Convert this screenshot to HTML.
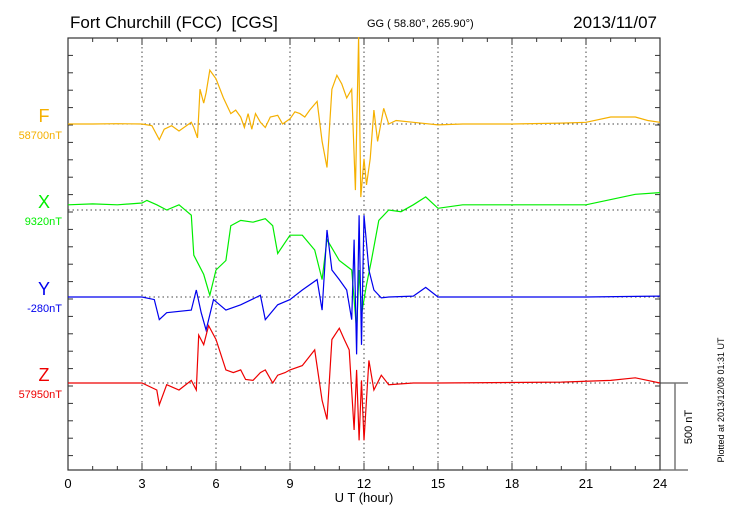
<!DOCTYPE html>
<html><head><meta charset="utf-8"><style>
body{margin:0;background:#fff;}
svg text{font-family:"Liberation Sans",sans-serif;}
</style></head><body>
<svg id="c" width="730" height="520" xmlns="http://www.w3.org/2000/svg">
<text x="70" y="28" font-size="17">Fort Churchill (FCC)&#160; [CGS]</text>
<text x="367" y="27" font-size="11">GG ( 58.80°, 265.90°)</text>
<text x="657" y="28" font-size="17" text-anchor="end">2013/11/07</text>
<text x="364" y="502" font-size="13" text-anchor="middle">U T (hour)</text>
<text transform="translate(692,427) rotate(-90)" font-size="11" text-anchor="middle">500 nT</text>
<text transform="translate(724,400) rotate(-90)" font-size="9" text-anchor="middle">Plotted at 2013/12/08 01:31  UT</text>
<g id="g"></g>
</svg>
<script>
const hoursF=[0,1,2,3,3.4,3.7,3.9,4.2,4.5,4.8,5.0,5.1,5.25,5.35,5.5,5.6,5.75,6.0,6.3,6.6,6.8,7.0,7.15,7.3,7.45,7.6,7.8,8.0,8.2,8.5,8.7,9.0,9.2,9.4,9.6,9.8,10.1,10.3,10.5,10.7,10.9,11.1,11.3,11.5,11.65,11.78,11.87,12.0,12.1,12.25,12.4,12.55,12.8,13.0,13.3,14,15,16,18,20,21,22,23,23.5,24];
const valsF=[0,0,2,0,-10,-90,-30,-10,-40,-10,10,-20,-80,200,120,180,310,260,150,60,80,40,-20,60,-30,60,10,-20,40,50,0,30,70,60,40,80,130,-100,-250,200,280,230,150,200,-380,500,-420,-200,-350,-200,80,-100,90,0,20,10,-5,0,0,5,10,40,40,20,10];
const hoursX=[0,1,2,3,3.2,3.6,4,4.5,5,5.1,5.5,5.75,6,6.4,6.6,7,7.5,8,8.3,8.5,9,9.5,10,10.3,10.5,11,11.5,11.7,11.8,11.9,12.1,12.3,12.6,13,13.5,14,14.5,15,16,18,21,22,23,24];
const valsX=[30,35,30,40,55,30,0,30,-30,-260,-370,-490,-345,-290,-90,-60,-70,-50,-90,-250,-145,-145,-230,-400,-170,-290,-345,-690,-345,-600,-430,-290,-60,0,-10,30,75,10,30,30,30,60,90,100];
const hoursY=[0,1,2,3,3.5,3.7,4,5,5.2,5.4,5.6,5.9,6.4,7,7.8,8,8.5,9,9.5,10.1,10.3,10.5,10.7,11,11.3,11.5,11.6,11.7,11.8,11.9,12.0,12.2,12.4,12.7,13,14,14.5,15,18,21,24];
const valsY=[0,0,0,0,-15,-130,-90,-75,40,-90,-190,-15,-75,-45,10,-130,-45,-15,40,100,-75,385,155,100,40,-130,330,-330,470,-275,470,155,40,-5,0,5,55,0,0,0,5];
const hoursZ=[0,1,2,3,3.6,3.7,4,4.5,5,5.2,5.3,5.5,5.7,6,6.4,6.7,7,7.2,7.5,7.8,8,8.3,8.5,8.8,9,9.5,10,10.3,10.5,10.7,11,11.2,11.4,11.6,11.7,11.8,11.9,12.0,12.2,12.4,12.7,13,14,15,20,22,23,24];
const valsZ=[0,0,0,0,-40,-125,-10,-40,15,-40,275,220,330,250,75,60,75,20,15,60,75,0,45,60,75,100,190,-100,-210,250,315,250,190,-270,75,-330,15,-330,130,-40,45,-10,0,0,5,15,30,0];
const xTicks=["0","3","6","9","12","15","18","21","24"];
const names=["F","X","Y","Z"], baseLabels=["58700nT","9320nT","-280nT","57950nT"];
const colors=["#f5b000","#00ee00","#0000ee","#ee0000"];
const L=68,R=660,T=38,B=470, bases=[124,210,297,383], k=87/500;
const sx=h=>L+(R-L)*h/24, sy=(i,v)=>bases[i]-v*k;
const g=document.getElementById('g'), NS='http://www.w3.org/2000/svg';
function mk(t,a,p){const e=document.createElementNS(NS,t);for(const q in a)e.setAttribute(q,a[q]);(p||g).appendChild(e);return e;}
for(let h=3;h<24;h+=3){const e=mk('line',{x1:sx(h),x2:sx(h),y1:T,y2:B,stroke:'#444','stroke-dasharray':'1.5,3','stroke-width':1});

}
bases.forEach(b=>{const e=mk('line',{x1:L,x2:R,y1:b,y2:b,stroke:'#444','stroke-dasharray':'1.5,3','stroke-width':1});

});
const fr=mk('rect',{x:L,y:T,width:R-L,height:B-T,fill:'none',stroke:'#333','stroke-width':1.2});


for(let h=0;h<=24;h++){const len=h%3==0?7:4;mk('line',{x1:sx(h),x2:sx(h),y1:B,y2:B-len,stroke:'#333'});mk('line',{x1:sx(h),x2:sx(h),y1:T,y2:T+len,stroke:'#333'});}
for(let y=T+17.4;y<B;y+=17.4){mk('line',{x1:L,x2:L+5,y1:y,y2:y,stroke:'#333'});mk('line',{x1:R,x2:R-5,y1:y,y2:y,stroke:'#333'});}
xTicks.forEach((t,i)=>{const e=mk('text',{x:sx(i*3),y:488,'font-size':13,'text-anchor':'middle'});e.textContent=t;

});
mk('line',{x1:660,x2:688,y1:383,y2:383,stroke:'#333'});
mk('line',{x1:660,x2:688,y1:470,y2:470,stroke:'#333'});
const sb=mk('line',{x1:675,x2:675,y1:383,y2:470,stroke:'#777','stroke-width':1.5});


const H=[hoursF,hoursX,hoursY,hoursZ],V=[valsF,valsX,valsY,valsZ];
for(let i=0;i<4;i++){
 const d=H[i].map((h,j)=>(j?'L':'M')+sx(h).toFixed(1)+','+sy(i,V[i][j]).toFixed(1)).join('');
 const p=mk('path',{d:d,fill:'none',stroke:colors[i],'stroke-width':1.2});
 
 
 const t=mk('text',{x:44,y:bases[i]-2,'font-size':18,fill:colors[i],'text-anchor':'middle'});t.textContent=names[i];
 
 
 const t2=mk('text',{x:62,y:bases[i]+15,'font-size':11,fill:colors[i],'text-anchor':'end'});t2.textContent=baseLabels[i];
 
 
}
</script>
</body></html>
